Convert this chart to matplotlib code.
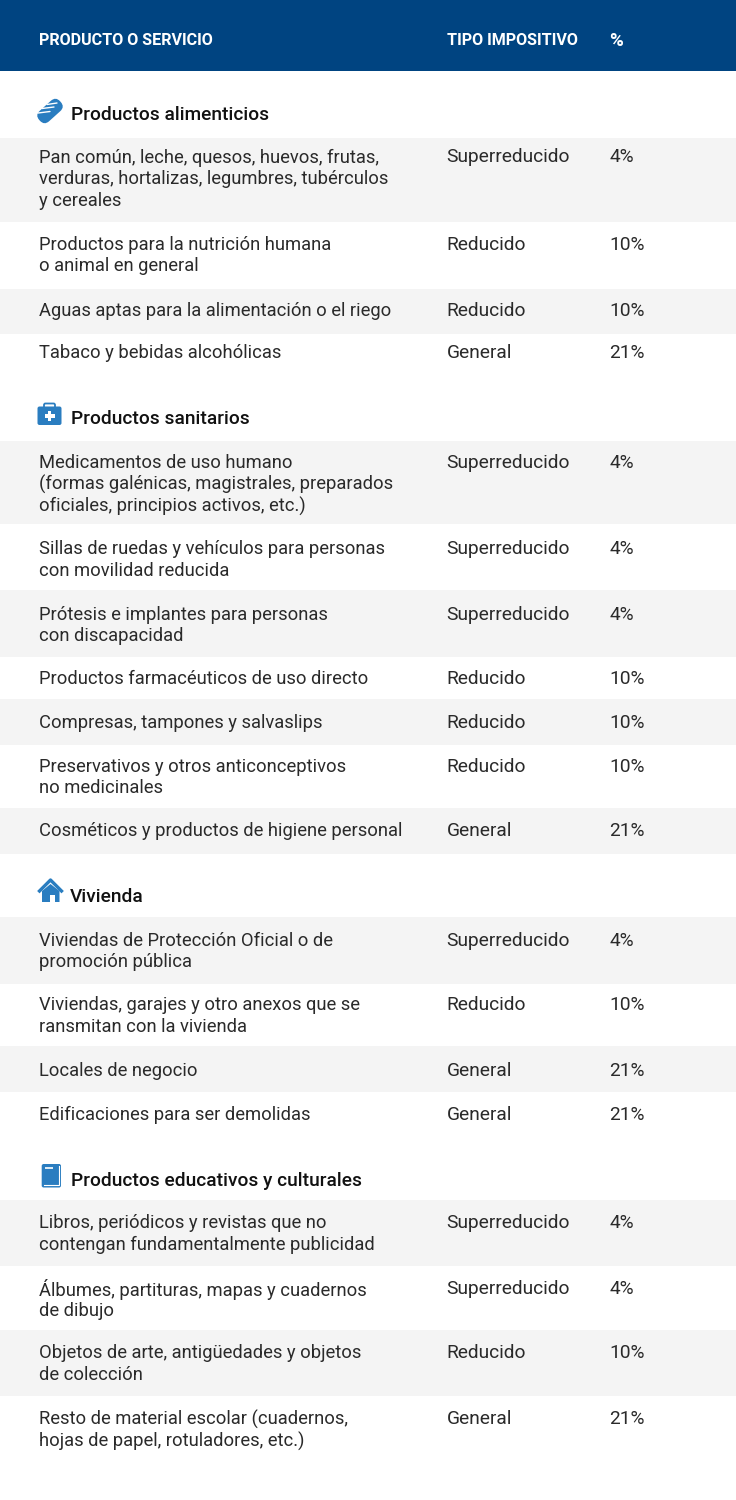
#!/usr/bin/env python
# tabla de tipos de IVA, dibujada en coordenadas de pixel
import matplotlib
matplotlib.use('Agg')
import matplotlib.pyplot as plt
from matplotlib.patches import Rectangle, FancyBboxPatch, Polygon
from matplotlib.transforms import Affine2D

headers = ['PRODUCTO O SERVICIO', 'TIPO IMPOSITIVO', '%']
sections = ['Productos alimenticios', 'Productos sanitarios', 'Vivienda', 'Productos educativos y culturales']

products = [
    ['Pan común, leche, quesos, huevos, frutas,', 'verduras, hortalizas, legumbres, tubérculos', 'y cereales'],
    ['Productos para la nutrición humana', 'o animal en general'],
    ['Aguas aptas para la alimentación o el riego'],
    ['Tabaco y bebidas alcohólicas'],
    ['Medicamentos de uso humano', '(formas galénicas, magistrales, preparados', 'oficiales, principios activos, etc.)'],
    ['Sillas de ruedas y vehículos para personas', 'con movilidad reducida'],
    ['Prótesis e implantes para personas', 'con discapacidad'],
    ['Productos farmacéuticos de uso directo'],
    ['Compresas, tampones y salvaslips'],
    ['Preservativos y otros anticonceptivos', 'no medicinales'],
    ['Cosméticos y productos de higiene personal'],
    ['Viviendas de Protección Oficial o de', 'promoción pública'],
    ['Viviendas, garajes y otro anexos que se', 'ransmitan con la vivienda'],
    ['Locales de negocio'],
    ['Edificaciones para ser demolidas'],
    ['Libros, periódicos y revistas que no', 'contengan fundamentalmente publicidad'],
    ['Álbumes, partituras, mapas y cuadernos', 'de dibujo'],
    ['Objetos de arte, antigüedades y objetos', 'de colección'],
    ['Resto de material escolar (cuadernos,', 'hojas de papel, rotuladores, etc.)'],
]
tax_types = ['Superreducido', 'Reducido', 'Reducido', 'General',
             'Superreducido', 'Superreducido', 'Superreducido', 'Reducido', 'Reducido', 'Reducido', 'General',
             'Superreducido', 'Reducido', 'General', 'General',
             'Superreducido', 'Superreducido', 'Reducido', 'General']
rates = ['4%', '10%', '10%', '21%',
         '4%', '4%', '4%', '10%', '10%', '10%', '21%',
         '4%', '10%', '21%', '21%',
         '4%', '4%', '10%', '21%']

# layout, en pixeles
first_line_y = [155.5, 242.5, 308.5, 351.5, 460.5, 547.5, 612.5, 677.5, 720.5, 764.5, 829.5,
                938.5, 1003.5, 1069.5, 1112.5, 1221.5, 1287.5, 1351.5, 1417.5]
line_gap = 21.8
grey_bands = [(138, 222), (289, 334), (441, 524), (590, 657), (699, 745), (808, 854),
              (917, 984), (1046, 1092), (1200, 1266), (1330, 1396)]
section_y = [112.5, 417.5, 894.5, 1178.5]
section_x = [71, 71, 70, 71]

navy = '#004481'
blue = '#2a7dc0'
grey = '#f4f4f4'
ink = '#2a2a2a'
product_size = 13.28
column_size = 13.75

plt.rcParams['font.family'] = ['Roboto', 'DejaVu Sans']

fig = plt.figure(figsize=(7.36, 15.0), dpi=100)
ax = fig.add_axes([0, 0, 1, 1])
ax.set_xlim(0, 736)
ax.set_ylim(1500, 0)
ax.axis('off')

ax.add_patch(Rectangle((0, 0), 736, 71, color=navy, lw=0))
for top, bottom in grey_bands:
    ax.add_patch(Rectangle((0, top), 736, bottom - top, color=grey, lw=0))

for x, h, fs in zip([39, 447, 609.5], headers, [11.6, 11.6, 13.5]):
    ax.text(x, 39, h, color='white', fontsize=fs, fontweight='bold', va='center_baseline')

for x, y, s in zip(section_x, section_y, sections):
    ax.text(x, y, s, color='#111111', fontsize=13.8, fontweight='medium', va='center_baseline')

for y, lines, t, r in zip(first_line_y, products, tax_types, rates):
    for i, line in enumerate(lines):
        ax.text(39, y + i * line_gap, line, color=ink, fontsize=product_size, va='center_baseline')
    ax.text(446.5, y, t, color=ink, fontsize=column_size, va='center_baseline')
    ax.text(609.5, y, r, color=ink, fontsize=column_size, va='center_baseline')

# iconos
# pan
rot = Affine2D().rotate_deg_around(50, 111, -42) + ax.transData
ax.add_patch(FancyBboxPatch((36, 104), 28, 14, boxstyle='round,pad=0,rounding_size=6.5', color=blue, lw=0, transform=rot))
for x0, y0, x1, y1 in [(47, 104.5, 57, 103), (42, 108.5, 54, 107), (38, 113, 50, 111.5)]:
    ax.plot([x0, x1], [y0, y1], color='white', lw=1.0, solid_capstyle='round')

# maletin
ax.add_patch(FancyBboxPatch((37.5, 406.5), 24, 18.5, boxstyle='round,pad=0,rounding_size=2', color=blue, lw=0))
ax.add_patch(FancyBboxPatch((44, 403.5), 11, 5, boxstyle='round,pad=0,rounding_size=1.5', fc='none', ec=blue, lw=1.3))
ax.add_patch(Rectangle((47.8, 411), 3.6, 10, color='white', lw=0))
ax.add_patch(Rectangle((44.6, 414.2), 10, 3.6, color='white', lw=0))

# casa
ax.add_patch(Polygon([(42, 891), (50.5, 884), (59.5, 891), (59.5, 902), (42, 902)], color=blue, lw=0, zorder=3))
ax.plot([39.5, 50.5, 61.5], [891, 880, 891], color=blue, lw=2.4, zorder=4)
ax.add_patch(Rectangle((50, 895), 5, 7, color='white', lw=0, zorder=5))

# libro
ax.add_patch(FancyBboxPatch((41.7, 1164), 19.3, 23.5, boxstyle='round,pad=0,rounding_size=2', color=blue, lw=0))
ax.add_patch(Rectangle((45, 1167), 8, 2.2, color='#dcebf6', lw=0))
ax.plot([43.5, 58.8, 58.8], [1184.5, 1184.5, 1165.5], color='white', lw=0.8)

fig.savefig('out.png', dpi=100, facecolor='white')
